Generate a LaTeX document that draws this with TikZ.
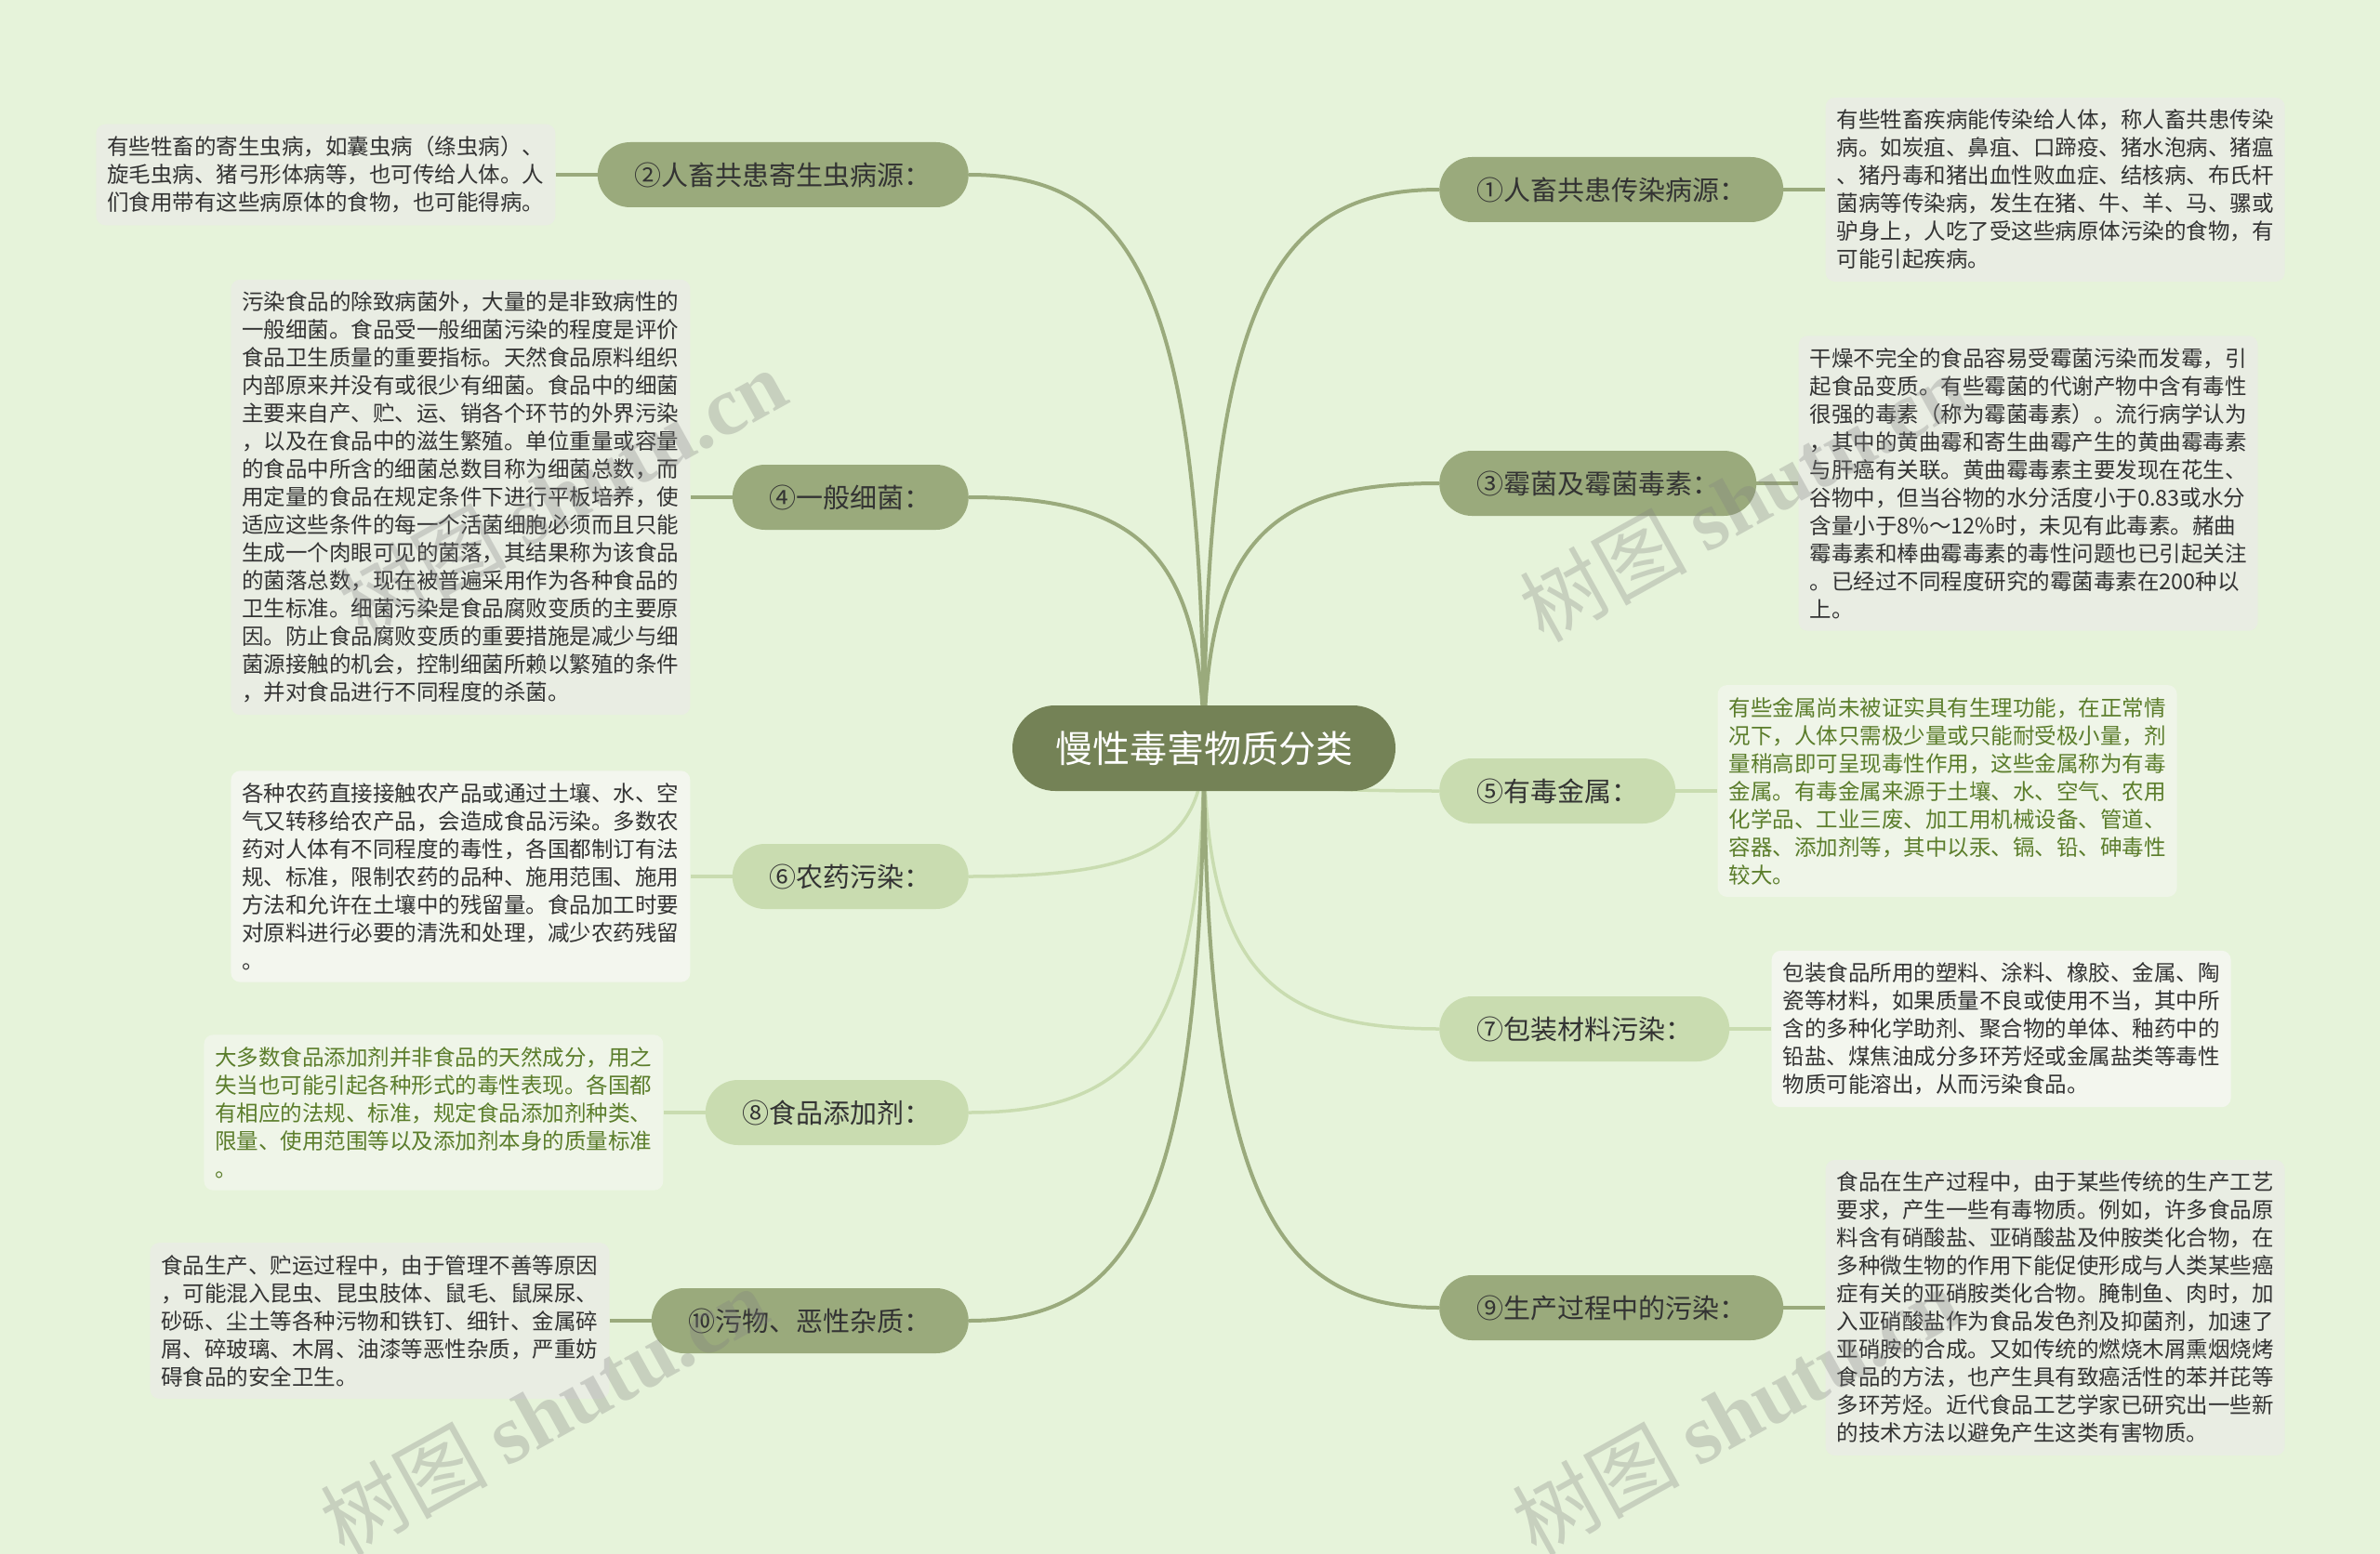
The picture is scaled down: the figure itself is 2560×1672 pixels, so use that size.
\documentclass[tikz,border=0pt]{standalone}
\usepackage{fontspec}
\setmainfont{Noto Sans CJK SC}
\newfontfamily\wmserif{Liberation Serif}
\usetikzlibrary{backgrounds}
\definecolor{bgc}{HTML}{E6F3DA}
\definecolor{ctrc}{HTML}{748256}
\definecolor{brd}{HTML}{9AAA7C}
\definecolor{brl}{HTML}{C9DCB0}
\definecolor{dscd}{HTML}{E9EDE3}
\definecolor{dscw}{HTML}{F3F6EE}
\definecolor{dscg}{HTML}{EFF5E8}
\definecolor{txtd}{HTML}{333333}
\definecolor{txtg}{HTML}{5B7D2B}
\begin{document}
\begin{tikzpicture}[x=1pt,y=-1pt,
  ctr/.style={rounded corners=46pt, fill=ctrc, text=white, minimum height=92pt, inner xsep=46pt, inner ysep=0pt, font=\fontsize{40}{48}\selectfont},
  br/.style={rounded corners=35pt, fill=brd, text=txtd, minimum height=70pt, inner xsep=40pt, inner ysep=0pt, font=\fontsize{29}{35}\selectfont},
  brlt/.style={br, fill=brl},
  dsc/.style={rounded corners=10pt, fill=dscd, text=txtd, align=left, inner xsep=12pt, inner ysep=13pt, font=\fontsize{23.5}{30}\selectfont},
  dscw/.style={dsc, fill=dscw},
  dscgr/.style={dsc, fill=dscg, text=txtg},
  lk/.style={draw=brd, line width=4pt},
  lkl/.style={draw=brl, line width=3.5pt},
  wm/.style={text=gray, opacity=0.3, font=\fontsize{90}{100}\selectfont}
]
\useasboundingbox (0,0) rectangle (2560,1672);

% center
\node[ctr] (c) at (1295,805) {慢性毒害物质分类};

% branches
\node[br, anchor=west] (n1) at (1548,204) {①人畜共患传染病源：};
\node[br, anchor=east] (n2) at (1042,188) {②人畜共患寄生虫病源：};
\node[br, anchor=west] (n3) at (1548,520) {③霉菌及霉菌毒素：};
\node[br, anchor=east] (n4) at (1042,535) {④一般细菌：};
\node[brlt, anchor=west] (n5) at (1548,851) {⑤有毒金属：};
\node[brlt, anchor=east] (n6) at (1042,943) {⑥农药污染：};
\node[brlt, anchor=west] (n7) at (1548,1107) {⑦包装材料污染：};
\node[brlt, anchor=east] (n8) at (1042,1197) {⑧食品添加剂：};
\node[br, anchor=west] (n9) at (1548,1407) {⑨生产过程中的污染：};
\node[br, anchor=east] (n10) at (1042,1421) {⑩污物、恶性杂质：};

% descriptions
\node[dsc, anchor=west] (d1) at ([xshift=45pt]n1.east) {有些牲畜疾病能传染给人体，称人畜共患传染\\病。如炭疽、鼻疽、口蹄疫、猪水泡病、猪瘟\\、猪丹毒和猪出血性败血症、结核病、布氏杆\\菌病等传染病，发生在猪、牛、羊、马、骡或\\驴身上，人吃了受这些病原体污染的食物，有\\可能引起疾病。};
\node[dsc, anchor=east] (d2) at ([xshift=-45pt]n2.west) {有些牲畜的寄生虫病，如囊虫病（绦虫病）、\\旋毛虫病、猪弓形体病等，也可传给人体。人\\们食用带有这些病原体的食物，也可能得病。};
\node[dsc, anchor=west] (d3) at ([xshift=45pt]n3.east) {干燥不完全的食品容易受霉菌污染而发霉，引\\起食品变质。有些霉菌的代谢产物中含有毒性\\很强的毒素（称为霉菌毒素）。流行病学认为\\，其中的黄曲霉和寄生曲霉产生的黄曲霉毒素\\与肝癌有关联。黄曲霉毒素主要发现在花生、\\谷物中，但当谷物的水分活度小于0.83或水分\\含量小于8\%～12\%时，未见有此毒素。赭曲\\霉毒素和棒曲霉毒素的毒性问题也已引起关注\\。已经过不同程度研究的霉菌毒素在200种以\\上。};
\node[dsc, anchor=east] (d4) at ([xshift=-45pt]n4.west) {污染食品的除致病菌外，大量的是非致病性的\\一般细菌。食品受一般细菌污染的程度是评价\\食品卫生质量的重要指标。天然食品原料组织\\内部原来并没有或很少有细菌。食品中的细菌\\主要来自产、贮、运、销各个环节的外界污染\\，以及在食品中的滋生繁殖。单位重量或容量\\的食品中所含的细菌总数目称为细菌总数，而\\用定量的食品在规定条件下进行平板培养，使\\适应这些条件的每一个活菌细胞必须而且只能\\生成一个肉眼可见的菌落，其结果称为该食品\\的菌落总数，现在被普遍采用作为各种食品的\\卫生标准。细菌污染是食品腐败变质的主要原\\因。防止食品腐败变质的重要措施是减少与细\\菌源接触的机会，控制细菌所赖以繁殖的条件\\，并对食品进行不同程度的杀菌。};
\node[dscgr, anchor=west] (d5) at ([xshift=45pt]n5.east) {有些金属尚未被证实具有生理功能，在正常情\\况下，人体只需极少量或只能耐受极小量，剂\\量稍高即可呈现毒性作用，这些金属称为有毒\\金属。有毒金属来源于土壤、水、空气、农用\\化学品、工业三废、加工用机械设备、管道、\\容器、添加剂等，其中以汞、镉、铅、砷毒性\\较大。};
\node[dscw, anchor=east] (d6) at ([xshift=-45pt]n6.west) {各种农药直接接触农产品或通过土壤、水、空\\气又转移给农产品，会造成食品污染。多数农\\药对人体有不同程度的毒性，各国都制订有法\\规、标准，限制农药的品种、施用范围、施用\\方法和允许在土壤中的残留量。食品加工时要\\对原料进行必要的清洗和处理，减少农药残留\\。};
\node[dscw, anchor=west] (d7) at ([xshift=45pt]n7.east) {包装食品所用的塑料、涂料、橡胶、金属、陶\\瓷等材料，如果质量不良或使用不当，其中所\\含的多种化学助剂、聚合物的单体、釉药中的\\铅盐、煤焦油成分多环芳烃或金属盐类等毒性\\物质可能溶出，从而污染食品。};
\node[dscgr, anchor=east] (d8) at ([xshift=-45pt]n8.west) {大多数食品添加剂并非食品的天然成分，用之\\失当也可能引起各种形式的毒性表现。各国都\\有相应的法规、标准，规定食品添加剂种类、\\限量、使用范围等以及添加剂本身的质量标准\\。};
\node[dsc, anchor=west] (d9) at ([xshift=45pt]n9.east) {食品在生产过程中，由于某些传统的生产工艺\\要求，产生一些有毒物质。例如，许多食品原\\料含有硝酸盐、亚硝酸盐及仲胺类化合物，在\\多种微生物的作用下能促使形成与人类某些癌\\症有关的亚硝胺类化合物。腌制鱼、肉时，加\\入亚硝酸盐作为食品发色剂及抑菌剂，加速了\\亚硝胺的合成。又如传统的燃烧木屑熏烟烧烤\\食品的方法，也产生具有致癌活性的苯并芘等\\多环芳烃。近代食品工艺学家已研究出一些新\\的技术方法以避免产生这类有害物质。};
\node[dsc, anchor=east] (d10) at ([xshift=-45pt]n10.west) {食品生产、贮运过程中，由于管理不善等原因\\，可能混入昆虫、昆虫肢体、鼠毛、鼠屎尿、\\砂砾、尘土等各种污物和铁钉、细针、金属碎\\屑、碎玻璃、木屑、油漆等恶性杂质，严重妨\\碍食品的安全卫生。};

\begin{scope}[on background layer]
\fill[bgc] (0,0) rectangle (2560,1672);
\draw[lk] (c.center) .. controls (1297,324) and (1371,204) .. (n1.west);
\draw[lk] (c.center) .. controls (1293,311) and (1219,188) .. (n2.east);
\draw[lk] (c.center) .. controls (1297,577) and (1371,520) .. (n3.west);
\draw[lk] (c.center) .. controls (1293,589) and (1219,535) .. (n4.east);
\draw[lkl] (c.center) .. controls (1297,842) and (1371,851) .. (n5.west);
\draw[lkl] (c.center) .. controls (1293,915) and (1219,943) .. (n6.east);
\draw[lkl] (c.center) .. controls (1297,1047) and (1371,1107) .. (n7.west);
\draw[lkl] (c.center) .. controls (1293,1119) and (1219,1197) .. (n8.east);
\draw[lk] (c.center) .. controls (1297,1287) and (1371,1407) .. (n9.west);
\draw[lk] (c.center) .. controls (1293,1298) and (1219,1421) .. (n10.east);
\draw[lk] (n1.east) -- (d1.west);
\draw[lk] (n2.west) -- (d2.east);
\draw[lk] (n3.east) -- (d3.west);
\draw[lk] (n4.west) -- (d4.east);
\draw[lkl] (n5.east) -- (d5.west);
\draw[lkl] (n6.west) -- (d6.east);
\draw[lkl] (n7.east) -- (d7.west);
\draw[lkl] (n8.west) -- (d8.east);
\draw[lk] (n9.east) -- (d9.west);
\draw[lk] (n10.west) -- (d10.east);
\end{scope}

% watermarks
\node[wm, rotate=29] (w1) at (605,530) {树图 {\wmserif\bfseries shutu.cn}};
\node[wm, rotate=29] (w2) at (1875,535) {树图 {\wmserif\bfseries shutu.cn}};
\node[wm, rotate=29] (w3) at (585,1518) {树图 {\wmserif\bfseries shutu.cn}};
\node[wm, rotate=29] (w4) at (1867,1518) {树图 {\wmserif\bfseries shutu.cn}};
\end{tikzpicture}
\end{document}
